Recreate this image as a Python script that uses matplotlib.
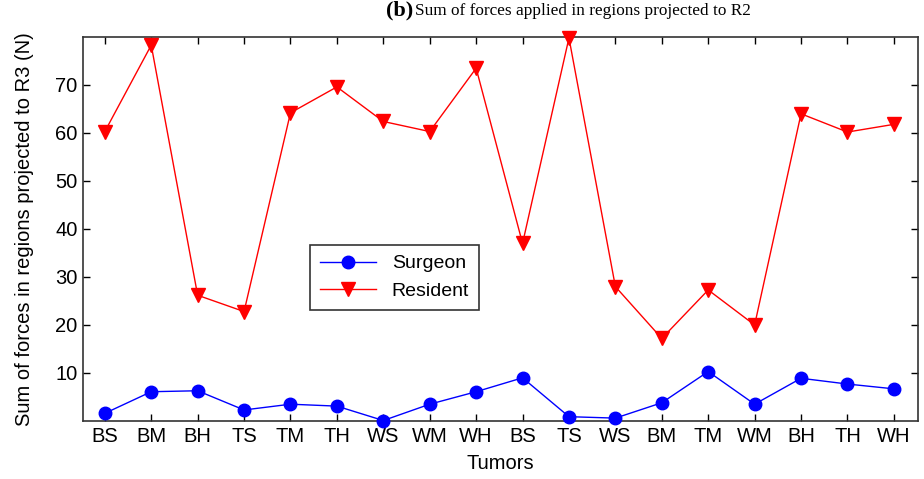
import matplotlib.pyplot as plt
import numpy as np

tumors = ['BS', 'BM', 'BH', 'TS', 'TM', 'TH', 'WS', 'WM', 'WH',
          'BS', 'TS', 'WS', 'BM', 'TM', 'WM', 'BH', 'TH', 'WH']
surgeon = [1.6, 6.1, 6.3, 2.3, 3.5, 3.1, 0.1, 3.5, 6.1,
           9.0, 0.9, 0.6, 3.8, 10.3, 3.5, 8.9, 7.7, 6.7]
resident = [60.3, 78.3, 26.2, 22.8, 64.2, 69.6, 62.4, 60.3, 73.5,
            37.0, 79.8, 28.0, 17.2, 27.3, 20.0, 64.0, 60.2, 61.8]
yticks = [10, 20, 30, 40, 50, 60, 70]

plt.rcParams['font.family'] = ['Liberation Sans', 'DejaVu Sans']

fig = plt.figure(figsize=(9.24, 4.79), dpi=100)
ax = fig.add_axes([83 / 924, 58 / 479, 835 / 924, 384 / 479])

x = np.arange(len(tumors))
ax.plot(x, surgeon, color='#0000ff', lw=1.0, marker='o', ms=9,
        label='Surgeon', clip_on=False, zorder=3)
ax.plot(x, resident, color='#ff0000', lw=1.0, marker='v', ms=10,
        label='Resident', clip_on=False, zorder=3)

ax.set_xlim(-0.47, 17.52)
ax.set_ylim(0, 80)
ax.set_xticks(x)
ax.set_xticklabels(tumors, fontsize=14.5)
ax.set_yticks(yticks)
ax.set_yticklabels([str(v) for v in yticks], fontsize=14.5)
ax.tick_params(direction='in', top=True, right=True, length=5, width=1, pad=4)
for s in ax.spines.values():
    s.set_linewidth(1.2)
    s.set_color('#333333')

ax.set_xlabel('Tumors', fontsize=14.5, labelpad=6)
ax.set_ylabel('Sum of forces in regions projected to R3 (N)', fontsize=14.5, labelpad=15)

leg = ax.legend(loc='upper left', bbox_to_anchor=(0.272, 0.458), borderaxespad=0,
                fontsize=14, fancybox=False, edgecolor='#333333', framealpha=1,
                handlelength=2.9, borderpad=0.5, labelspacing=0.5)
leg.get_frame().set_linewidth(1.2)

fig.text(413 / 924, 0.978, '(b)', fontsize=16, fontweight='bold', family='Liberation Serif',
         ha='right', va='center')
fig.text(415 / 924, 0.976, 'Sum of forces applied in regions projected to R2', fontsize=12.4,
         family='Liberation Serif', ha='left', va='center')

fig.savefig('out.png', dpi=100)
